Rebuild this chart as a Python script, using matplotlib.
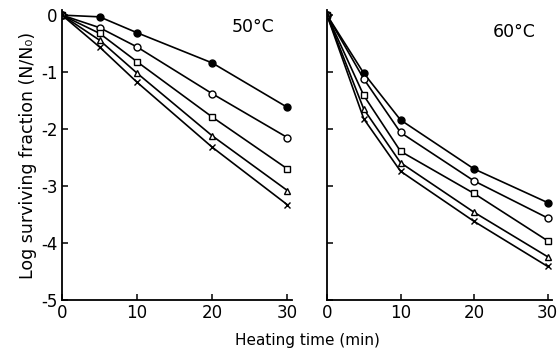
import numpy as np
import matplotlib
matplotlib.use("Agg")
import matplotlib.pyplot as plt

# Data ---------------------------------------------------------------------------------------
time_min = [0, 5, 10, 20, 30]

# 50 C panel
log50_filled = [0, -0.03, -0.31, -0.84, -1.62]
log50_circle = [0, -0.22, -0.56, -1.38, -2.15]
log50_square = [0, -0.32, -0.82, -1.79, -2.70]
log50_triangle = [0, -0.44, -1.02, -2.12, -3.08]
log50_cross = [0, -0.56, -1.18, -2.32, -3.33]

# 60 C panel
log60_filled = [0, -1.02, -1.84, -2.70, -3.29]
log60_circle = [0, -1.12, -2.06, -2.91, -3.56]
log60_square = [0, -1.41, -2.39, -3.13, -3.96]
log60_triangle = [0, -1.65, -2.59, -3.46, -4.24]
log60_cross = [0, -1.82, -2.74, -3.62, -4.41]

x_ticks = [0, 10, 20, 30]
x_ticklabels = ["0", "10", "20", "30"]
y_ticks = [0, -1, -2, -3, -4, -5]
y_ticklabels = ["0", "-1", "-2", "-3", "-4", "-5"]

styles = [
    dict(marker="o", mfc="black"),
    dict(marker="o", mfc="white"),
    dict(marker="s", mfc="white"),
    dict(marker="^", mfc="white"),
    dict(marker="x", mfc="black"),
]

# Figura -------------------------------------------------------------------------------------
W, H = 557, 354
fig = plt.figure(figsize=(W / 100, H / 100), dpi=100)

def make_ax(x0, x1, y_top, y_bot):
    return fig.add_axes([x0 / W, 1 - y_bot / H, (x1 - x0) / W, (y_bot - y_top) / H])

ax1 = make_ax(62, 292, 10, 300)
ax2 = make_ax(327, 552, 10, 300)

panels = [
    (ax1, [log50_filled, log50_circle, log50_square, log50_triangle, log50_cross], "50°C", 0.83, 0.94),
    (ax2, [log60_filled, log60_circle, log60_square, log60_triangle, log60_cross], "60°C", 0.83, 0.925),
]

for ax, series, label, tx, ty in panels:
    for vals, st in zip(series, styles):
        ax.plot(time_min, vals, color="black", lw=1.2, ms=5, mec="black", mew=1.0, **st)
    ax.set_xlim(0, 30.6)
    ax.set_ylim(-5, 0.09)
    ax.spines["top"].set_visible(False)
    ax.spines["right"].set_visible(False)
    ax.spines["left"].set_linewidth(1.3)
    ax.spines["bottom"].set_linewidth(1.3)
    ax.set_xticks(x_ticks)
    ax.set_xticklabels(x_ticklabels, fontsize=12)
    ax.set_yticks(y_ticks)
    ax.tick_params(direction="in", length=4, width=1.1, pad=3)
    ax.text(tx, ty, label, transform=ax.transAxes, fontsize=12.5, ha="center", va="center")
    ax.patch.set_alpha(0)

ax1.set_yticklabels(y_ticklabels, fontsize=12)
ax2.set_yticklabels([])
ax1.set_ylabel("Log surviving fraction (N/N₀)", fontsize=12.5, labelpad=3)

fig.text(307 / W, 1 - 340 / H, "Heating time (min)", fontsize=11, ha="center", va="center")

fig.savefig("out.png", dpi=100)
